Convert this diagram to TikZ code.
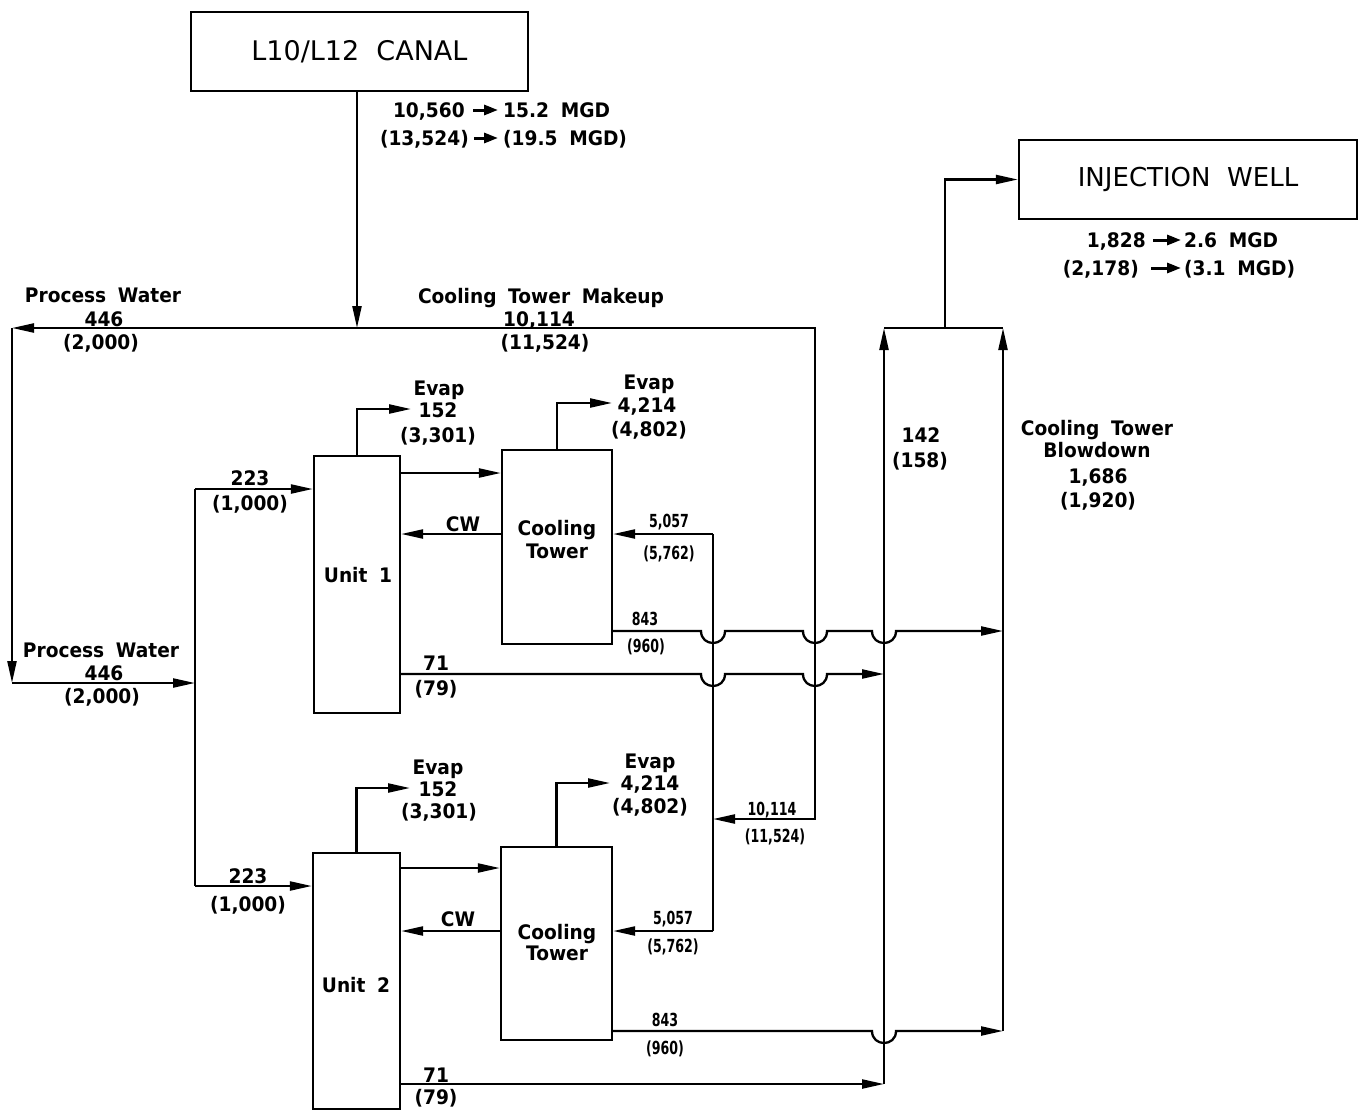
\documentclass[tikz,border=0pt]{standalone}
\usepackage{fontspec}
\setmainfont{DejaVu Sans}[WordSpace=2]
\newfontfamily\labfont{DejaVu Sans}[WordSpace=1.8, FakeStretch=0.93]
\newfontfamily\condfont{DejaVu Sans Bold}[FakeStretch=0.7]
\usetikzlibrary{arrows.meta}
\begin{document}
\begin{tikzpicture}[x=1pt,y=-1pt,
  lab/.style={font=\labfont\bfseries\fontsize{20}{24}\selectfont, text height=14.6pt, text depth=0pt, inner sep=0pt},
  clab/.style={font=\condfont\fontsize{18}{20}\selectfont, text height=13pt, text depth=0pt, inner sep=0pt},
  box/.style={draw, line width=2.3pt, inner sep=0pt},
  ln/.style={line width=2.3pt},
  flow/.style={line width=2.3pt, -{Triangle[length=22pt,width=9pt]}},
  tarrow/.style={line width=3pt, -{Triangle[length=14pt,width=10pt]}}
]
\useasboundingbox (0,0) rectangle (1362,1111);

% boxes
\node[box, minimum width=337pt, minimum height=79pt, font=\fontsize{27}{30}\selectfont] (canal) at (359.5,51.5) {L10/L12 CANAL};
\node[box, minimum width=338pt, minimum height=79pt, font=\fontsize{26}{30}\selectfont] (inj) at (1188,179.5) {INJECTION WELL};
\node[box, minimum width=86pt, minimum height=257pt] (u1) at (357,584.5) {};
\node[box, minimum width=87pt, minimum height=256pt] (u2) at (356.5,981) {};
\node[box, minimum width=110pt, minimum height=194pt] (ct1) at (557,547) {};
\node[box, minimum width=111pt, minimum height=193pt] (ct2) at (556.5,943.5) {};

% coordinates
\coordinate (j0) at (357,328);
\coordinate (tl) at (12,328);
\coordinate (bl) at (12,683);
\coordinate (pw) at (195,683);
\coordinate (sa) at (195,489);
\coordinate (sb) at (195,886);
\coordinate (tr) at (815,328);
\coordinate (mk) at (815,819);
\coordinate (m1) at (713,819);
\coordinate (r1) at (713,534);
\coordinate (r2) at (713,931);
\coordinate (ca) at (884,328);
\coordinate (cb) at (1003,328);
\coordinate (rs) at (945,328);
\coordinate (e1) at (411,409);
\coordinate (e2) at (612,403);
\coordinate (e3) at (410,788);
\coordinate (e4) at (610,783);
\coordinate (y473) at (0,473);
\coordinate (y534) at (0,534);
\coordinate (y868) at (0,868);
\coordinate (y931) at (0,931);
\coordinate (y631) at (0,631);
\coordinate (y674) at (0,674);
\coordinate (y1031) at (0,1031);
\coordinate (y1084) at (0,1084);

% supply lines
\draw[flow] (canal.south -| j0) -- (j0);
\draw[flow] (j0) -- (tl);
\draw[flow] (tl) -- (bl);
\draw[flow] (bl) -- (pw);
\draw[ln] (sa) -- (sb);
\draw[flow] (sa) -- (sa -| u1.west);
\draw[flow] (sb) -- (sb -| u2.west);
\draw[flow] (j0) -- (tr) -- (mk) -- (m1);

% evaporation
\draw[flow] (u1.north) |- (e1);
\draw[flow] (ct1.north) |- (e2);
\draw[flow] (u2.north) |- (e3);
\draw[flow] (ct2.north) |- (e4);

% unit <-> cooling tower
\draw[flow] (u1.east |- y473) -- (ct1.west |- y473);
\draw[flow] (ct1.west |- y534) -- (u1.east |- y534);
\draw[flow] (u2.east |- y868) -- (ct2.west |- y868);
\draw[flow] (ct2.west |- y931) -- (u2.east |- y931);

% makeup distribution
\draw[ln] (r1) -- (r2);
\draw[flow] (r1) -- (ct1.east |- r1);
\draw[flow] (r2) -- (ct2.east |- r2);

% blowdown lines with hops
\draw[flow] (ct1.east |- y631) -- (701,631) .. controls (701,647) and (725,647) .. (725,631)
  -- (803,631) .. controls (803,647) and (827,647) .. (827,631)
  -- (872,631) .. controls (872,647) and (896,647) .. (896,631) -- (cb |- y631);
\draw[flow] (u1.east |- y674) -- (701,674) .. controls (701,690) and (725,690) .. (725,674)
  -- (803,674) .. controls (803,690) and (827,690) .. (827,674) -- (ca |- y674);
\draw[flow] (u2.east |- y1084) -- (ca |- y1084);
\draw[flow] (ct2.east |- y1031) -- (872,1031) .. controls (872,1047) and (896,1047) .. (896,1031) -- (cb |- y1031);

% collectors
\draw[flow] (ca |- y1084) -- (ca);
\draw[flow] (cb |- y1031) -- (cb);
\draw[ln] (ca) -- (cb);
\draw[flow] (rs) |- (inj.west);

% canal flow labels
\node[lab, anchor=east] (q1) at (465,110) {10,560};
\node[lab, anchor=west] (q2) at (503,110) {15.2 MGD};
\node[lab, anchor=east] (q3) at (469,138) {(13,524)};
\node[lab, anchor=west] (q4) at (503,138) {(19.5 MGD)};
\draw[tarrow] ([xshift=-30pt]q2.west) -- ([xshift=-5pt]q2.west);
\draw[tarrow] ([xshift=-29pt]q4.west) -- ([xshift=-5pt]q4.west);

% injection well labels
\node[lab, anchor=east] (w1) at (1146,240) {1,828};
\node[lab, anchor=west] (w2) at (1184,240) {2.6 MGD};
\node[lab, anchor=east] (w3) at (1139,268) {(2,178)};
\node[lab, anchor=west] (w4) at (1184,268) {(3.1 MGD)};
\draw[tarrow] ([xshift=-31pt]w2.west) -- ([xshift=-3pt]w2.west);
\draw[tarrow] ([xshift=-33pt]w4.west) -- ([xshift=-3pt]w4.west);

% top labels
\node[lab] (pa1) at (103,295) {Process Water};
\node[lab] (pa2) at (104,319) {446};
\node[lab] (pa3) at (101,342) {(2,000)};
\node[lab] (cm1) at (541,296) {Cooling Tower Makeup};
\node[lab] (cm2) at (539,319) {10,114};
\node[lab] (cm3) at (545,342) {(11,524)};

% unit 1 area
\node[lab] (ua1) at (439,388) {Evap};
\node[lab] (ua2) at (438,410) {152};
\node[lab] (ua3) at (438,435) {(3,301)};
\node[lab] (ca1) at (649,382) {Evap};
\node[lab] (ca2) at (647,405) {4,214};
\node[lab] (ca3) at (649,429) {(4,802)};
\node[lab] (ia1) at (250,478) {223};
\node[lab] (ia2) at (250,503) {(1,000)};
\node[lab] (cw1) at (463,524) {CW};
\node[lab] (ct1a) at (557,528) {Cooling};
\node[lab] (ct1b) at (557,551) {Tower};
\node[lab] (u1t) at (358,575) {Unit 1};
\node[clab] (fa1) at (669,521) {5,057};
\node[clab] (fa2) at (669,553) {(5,762)};
\node[clab] (ba1) at (645,619) {843};
\node[clab] (ba2) at (646,646) {(960)};
\node[lab] (sa1) at (436,663) {71};
\node[lab] (sa2) at (436,688) {(79)};
\node[lab] (pb1) at (101,650) {Process Water};
\node[lab] (pb2) at (104,673) {446};
\node[lab] (pb3) at (102,696) {(2,000)};

% right labels
\node[lab] (k1) at (921,435) {142};
\node[lab] (k2) at (920,460) {(158)};
\node[lab] (bd1) at (1097,428) {Cooling Tower};
\node[lab] (bd2) at (1097,450) {Blowdown};
\node[lab] (bd3) at (1098,476) {1,686};
\node[lab] (bd4) at (1098,500) {(1,920)};

% unit 2 area
\node[lab] (ub1) at (438,767) {Evap};
\node[lab] (ub2) at (438,789) {152};
\node[lab] (ub3) at (439,811) {(3,301)};
\node[lab] (cb1) at (650,761) {Evap};
\node[lab] (cb2) at (650,783) {4,214};
\node[lab] (cb3) at (650,806) {(4,802)};
\node[lab] (ib1) at (248,876) {223};
\node[lab] (ib2) at (248,904) {(1,000)};
\node[clab] (mu1) at (772,809) {10,114};
\node[clab] (mu2) at (775,836) {(11,524)};
\node[lab] (cw2) at (458,919) {CW};
\node[lab] (ct2a) at (557,932) {Cooling};
\node[lab] (ct2b) at (557,953) {Tower};
\node[lab] (u2t) at (356,985) {Unit 2};
\node[clab] (fb1) at (673,918) {5,057};
\node[clab] (fb2) at (673,946) {(5,762)};
\node[clab] (bb1) at (665,1020) {843};
\node[clab] (bb2) at (665,1048) {(960)};
\node[lab] (sb1) at (436,1075) {71};
\node[lab] (sb2) at (436,1097) {(79)};
\end{tikzpicture}
\end{document}
